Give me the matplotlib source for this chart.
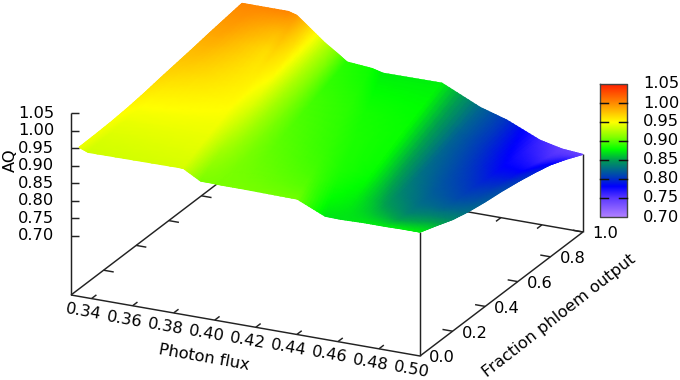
import numpy as np
import matplotlib
matplotlib.use("Agg")
import matplotlib.pyplot as plt
from matplotlib.colors import LinearSegmentedColormap

# ---------- data ----------
x_ticks = [0.34, 0.36, 0.38, 0.40, 0.42, 0.44, 0.46, 0.48, 0.50]
y_ticks = [0.0, 0.2, 0.4, 0.6, 0.8, 1.0]
z_ticks = [0.70, 0.75, 0.80, 0.85, 0.90, 0.95, 1.00, 1.05]

y_rows = [0.0, 0.1, 0.2, 0.3, 0.4, 0.5, 0.6, 0.7, 0.8, 0.9, 1.0]
# photon flux of each surface crease at fraction 0 and at fraction 1
flux_near = [0.3339, 0.3383, 0.3827, 0.3846, 0.3932, 0.3980, 0.4031, 0.4123, 0.4402, 0.4538, 0.4611, 0.4728, 0.4830, 0.4915, 0.4966, 0.5000]
flux_far = [0.3339, 0.3402, 0.3564, 0.3606, 0.3655, 0.3744, 0.3803, 0.3851, 0.3972, 0.4026, 0.4313, 0.4499, 0.4629, 0.4791, 0.4898, 0.5000]
aq = [
    [.957, .958, .960, .964, .970, .978, .985, .992, 1.000, 1.007, 1.014],
    [.947, .950, .954, .960, .967, .975, .984, .992, 1.000, 1.007, 1.014],
    [.949, .952, .955, .958, .962, .966, .969, .972, .976, .990, 1.014],
    [.949, .952, .955, .958, .961, .964, .967, .972, .980, .992, 1.007],
    [.921, .927, .933, .940, .946, .952, .958, .965, .971, .978, .984],
    [.921, .923, .926, .928, .930, .932, .934, .936, .938, .940, .942],
    [.920, .920, .920, .920, .920, .920, .920, .920, .920, .920, .919],
    [.920, .918, .916, .914, .912, .910, .908, .906, .903, .901, .899],
    [.918, .912, .908, .905, .903, .902, .901, .900, .898, .895, .893],
    [.883, .890, .895, .897, .897, .897, .896, .895, .892, .889, .885],
    [.882, .885, .888, .891, .892, .892, .892, .891, .890, .888, .886],
    [.884, .872, .860, .851, .845, .840, .837, .835, .834, .835, .836],
    [.884, .864, .848, .838, .831, .826, .822, .818, .815, .814, .813],
    [.885, .866, .850, .835, .824, .815, .806, .796, .788, .780, .772],
    [.885, .868, .850, .836, .826, .818, .808, .796, .782, .768, .758],
    [.885, .868, .850, .838, .830, .824, .816, .806, .794, .775, .753],
]
palette_levels = [0.70, 0.75, 0.78, 0.80, 0.825, 0.85, 0.878, 0.91, 0.95, 1.005, 1.05]
palette_colors = ["#b080ff", "#5a38ff", "#0000ff", "#0030c8", "#006a8c", "#00a050", "#00ff00",
                  "#80ff00", "#ffff00", "#ff8000", "#ff2000"]
surface_colour_shift = 0.012

x_range = (0.33, 0.50)
z_range = (0.5317, 1.05)

# ---------- gnuplot-like orthographic view, in figure pixels ----------
ORIGIN = np.array([71.0, 295.0])
X_VEC = np.array([349.0, 61.0])
Y_VEC = np.array([163.0, -124.0])
Z_PER_UNIT = 350.6


def project(x, y, z):
    xn = (np.asarray(x, float) - x_range[0]) / (x_range[1] - x_range[0])
    y = np.asarray(y, float)
    px = ORIGIN[0] + xn * X_VEC[0] + y * Y_VEC[0]
    py = ORIGIN[1] + xn * X_VEC[1] + y * Y_VEC[1] - (np.asarray(z, float) - z_range[0]) * Z_PER_UNIT
    return px, py


def subdivide(values, n=10):
    """Smooth rendering of each facet (like pm3d interpolate)."""
    v = np.asarray(values, float)
    i = np.linspace(0, v.shape[0] - 1, (v.shape[0] - 1) * n + 1)
    j = np.linspace(0, v.shape[1] - 1, (v.shape[1] - 1) * n + 1)
    a = np.array([np.interp(j, np.arange(v.shape[1]), row) for row in v])
    return np.array([np.interp(i, np.arange(v.shape[0]), col) for col in a.T]).T


fig = plt.figure(figsize=(6.8, 3.8), dpi=100)
ax = fig.add_axes([0, 0, 1, 1])
ax.set_xlim(0, 680)
ax.set_ylim(380, 0)
ax.axis("off")

FS = 11.7
LC = "#222222"
LW = 1.05

lev = np.asarray(palette_levels)
lev = (lev - lev[0]) / (lev[-1] - lev[0])
pal = LinearSegmentedColormap.from_list("aq", list(zip(lev.tolist(), palette_colors)), N=512)


def seg(p, q, **kw):
    ax.plot([p[0], q[0]], [p[1], q[1]], color=LC, lw=LW, solid_capstyle="butt", zorder=1, **kw)


zb = z_range[0]
xa, xb = x_range
corner = lambda x, y, z=zb: tuple(float(v) for v in project(x, y, z))
# box
seg(corner(xa, 0), corner(xb, 0))
seg(corner(xb, 0), corner(xb, 1))
seg(corner(xb, 1), corner(xa, 1))
seg(corner(xa, 1), corner(xa, 0))
seg(corner(xa, 0), corner(xa, 0, 1.05))
seg(corner(xb, 0), corner(xb, 0, 0.885))
seg(corner(xb, 1), corner(xb, 1, 0.753))

# ticks on the base
dxt = 0.029 * (xb - xa)
for x in x_ticks[:-1]:
    seg(corner(x, 0), corner(x, 0.03))
    seg(corner(x, 1), corner(x, 0.97))
for y in y_ticks[1:]:
    seg(corner(xb, y), corner(xb - dxt, y))
    if y < 1:
        seg(corner(xa, y), corner(xa + dxt, y))
for z in z_ticks:
    p = corner(xa, 0, z)
    seg(p, (p[0] + 8, p[1]))
    ax.text(54, p[1], f"{z:.2f}", ha="right", va="center", fontsize=FS, color="black")

for x in x_ticks:
    p = corner(x, 0)
    ax.text(p[0] - 8.5, p[1] + 13.5, f"{x:.2f}", ha="center", va="center", rotation=-10,
            rotation_mode="anchor", fontsize=FS, color="black")
for y in y_ticks:
    p = corner(xb, y)
    ax.text(p[0] + 22, p[1] + 2, f"{y:.1f}", ha="center", va="center", fontsize=FS, color="black")

ax.text(204, 358, "Photon flux", ha="center", va="center", rotation=-10, rotation_mode="anchor",
        fontsize=FS, color="black")
ax.text(559, 316, "Fraction phloem output", ha="center", va="center", rotation=38,
        rotation_mode="anchor", fontsize=FS, color="black")
ax.text(10, 160, "AQ", ha="center", va="center", rotation=90, fontsize=FS, color="black")

# surface
near = np.asarray(flux_near)
far = np.asarray(flux_far)
yy = np.asarray(y_rows)
X = np.outer(near, 1 - yy) + np.outer(far, yy)
Y = np.tile(yy, (len(near), 1))
Z = np.asarray(aq)
Xf, Yf, Zf = subdivide(X), subdivide(Y), subdivide(Z)
Xf, Yf, Zf = Xf[:, ::-1], Yf[:, ::-1], Zf[:, ::-1]
PX, PY = project(Xf, Yf, Zf)
ax.pcolormesh(PX, PY, Zf - surface_colour_shift, shading="gouraud", cmap=pal, vmin=0.70, vmax=1.05, zorder=2)

# colour box
cb = (600, 627, 84, 217)
grad = np.linspace(1.05, 0.70, 256).reshape(-1, 1)
ax.imshow(grad, extent=(cb[0], cb[1], cb[3], cb[2]), cmap=pal, vmin=0.70, vmax=1.05,
          aspect="auto", zorder=3)
ax.set_xlim(0, 680)
ax.set_ylim(380, 0)
ax.plot([cb[0], cb[1], cb[1], cb[0], cb[0]], [cb[2], cb[2], cb[3], cb[3], cb[2]], color="#444444", lw=1.0, zorder=4)
for z in z_ticks:
    py = cb[3] - (z - 0.70) / 0.35 * (cb[3] - cb[2])
    if 0.70 < z < 1.05:
        ax.plot([cb[0], cb[0] + 8], [py, py], color="#111111", lw=LW, zorder=4)
        ax.plot([cb[1] - 8, cb[1]], [py, py], color="#111111", lw=LW, zorder=4)
    ax.text(643, py, f"{z:.2f}", ha="left", va="center", fontsize=FS, color="black", zorder=4)

fig.savefig("out.png", dpi=100)
